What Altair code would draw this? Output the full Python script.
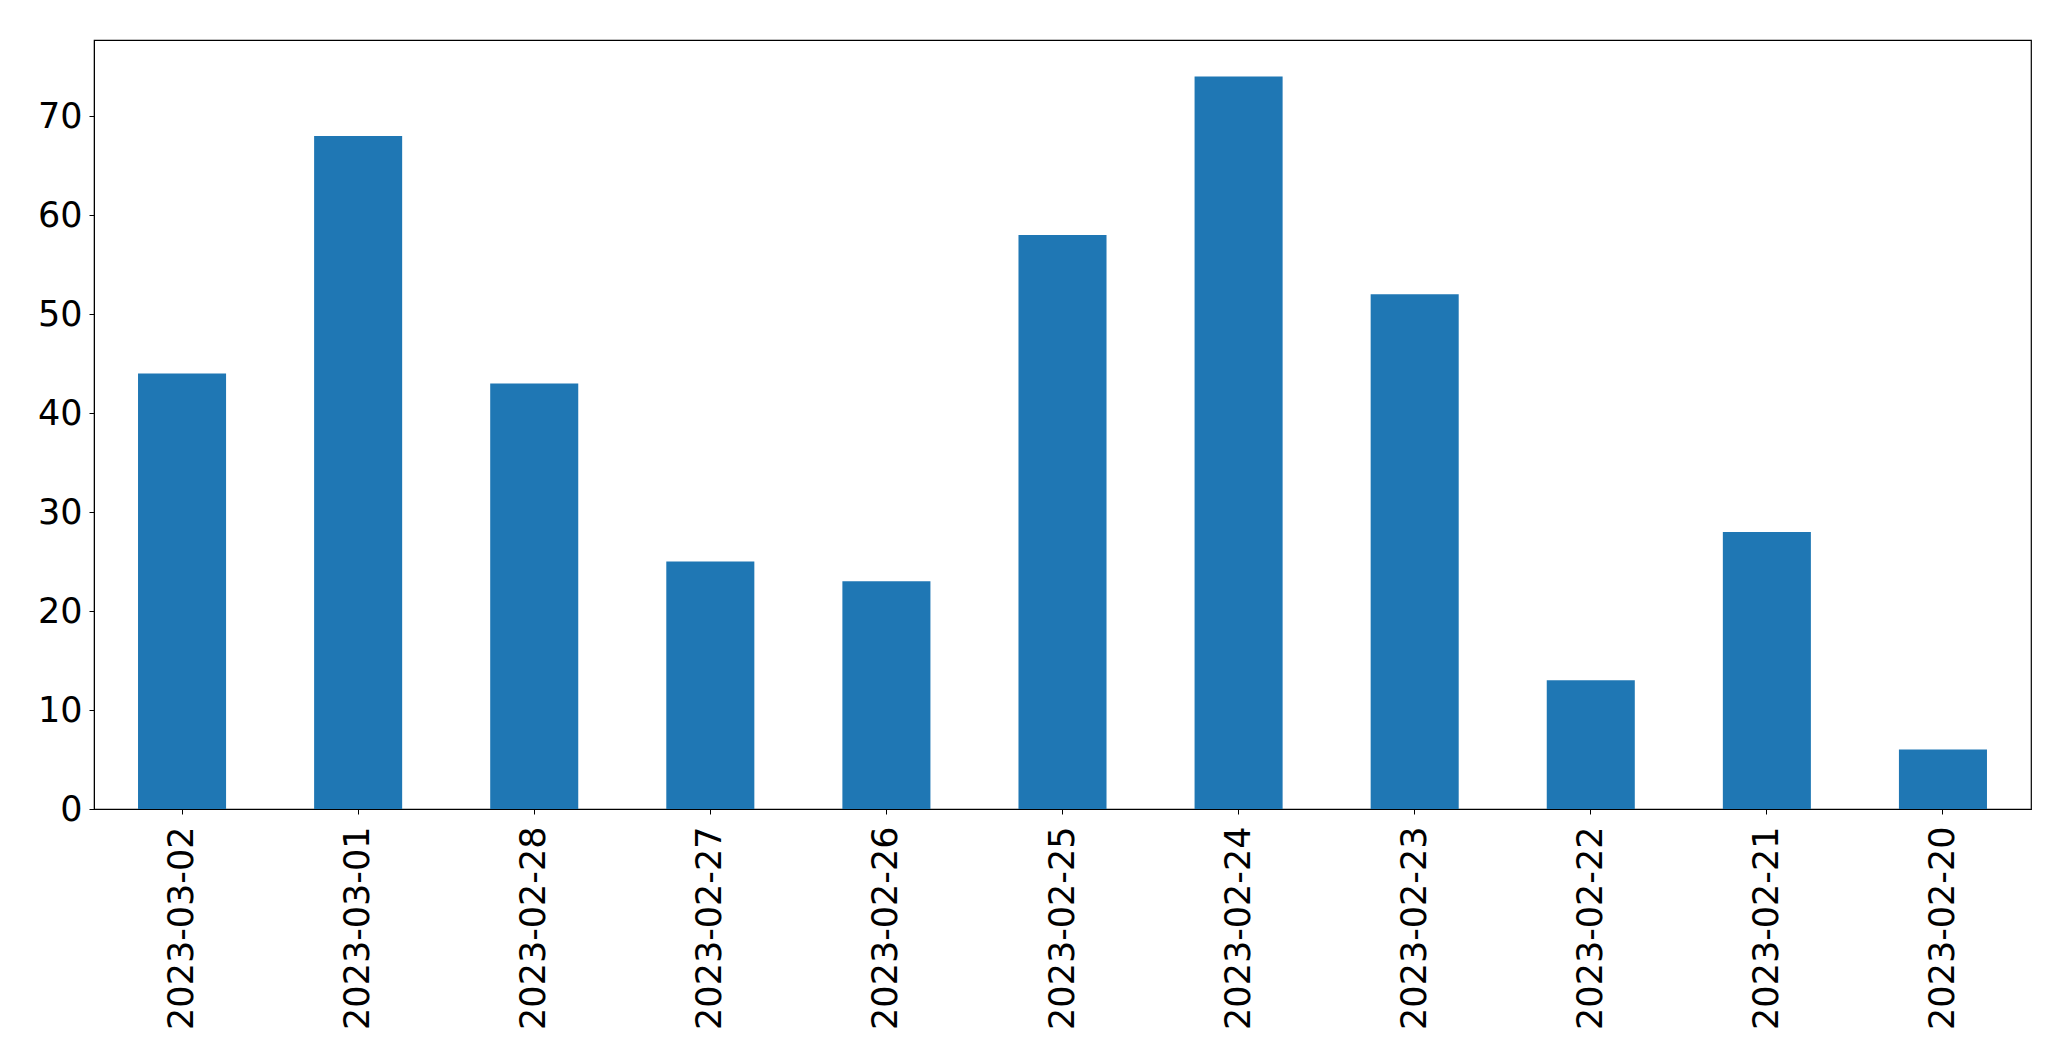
import altair as alt
import pandas as pd

dates = ["2023-03-02", "2023-03-01", "2023-02-28", "2023-02-27", "2023-02-26",
         "2023-02-25", "2023-02-24", "2023-02-23", "2023-02-22", "2023-02-21", "2023-02-20"]
counts = [44, 68, 43, 25, 23, 58, 74, 52, 13, 28, 6]

df = pd.DataFrame({"date": dates, "count": counts})

chart = alt.Chart(df).mark_bar(color="#1f77b4").encode(
    x=alt.X("date:N", sort=dates, title=None,
            scale=alt.Scale(paddingInner=0.5, paddingOuter=0.25),
            axis=alt.Axis(labelAngle=270, labelFontSize=35, labelFont="DejaVu Sans",
                          labelColor="black", tickColor="black", tickSize=5,
                          labelPadding=12, labelLimit=500, domainColor="black", grid=False)),
    y=alt.Y("count:Q", title=None,
            scale=alt.Scale(domain=[0, 77.7], nice=False, zero=True),
            axis=alt.Axis(values=[0, 10, 20, 30, 40, 50, 60, 70], labelFontSize=35,
                          labelFont="DejaVu Sans", labelColor="black", tickColor="black",
                          tickSize=5, labelPadding=7, domainColor="black", grid=False)),
).properties(
    width=1937, height=769,
    autosize=alt.AutoSizeParams(type="none"),
    padding={"left": 86, "top": 32, "right": 30, "bottom": 240},
).configure_view(stroke="black", strokeWidth=1.2)

chart.save("out.html", embed_options={"renderer": "svg", "actions": False})
